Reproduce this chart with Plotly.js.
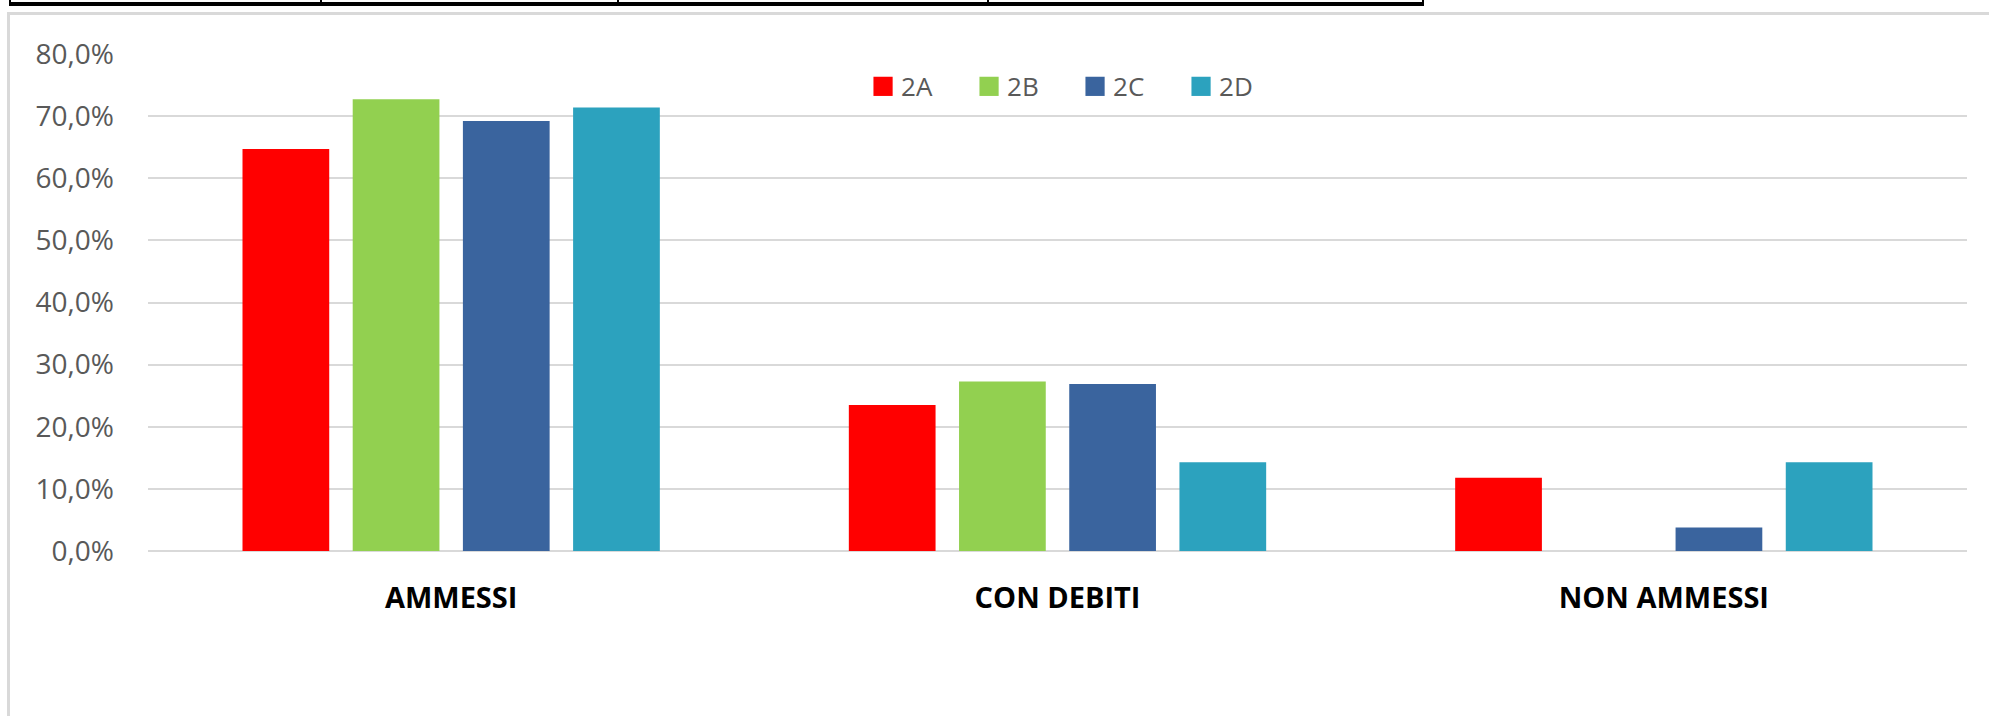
<!DOCTYPE html>
<html>
<head>
<meta charset="utf-8">
<script src="https://cdn.plot.ly/plotly-3.0.1.min.js"></script>
<style>
  html, body { margin: 0; padding: 0; background: #fff; overflow: hidden; }
  #wrap { position: relative; width: 1989px; height: 716px; }
  /* piece of the table above the chart, cut off at the top */
  .tbl-bar { position: absolute; left: 9px; top: 2px; width: 1415px; height: 4px; background: #000; }
  .tbl-div { position: absolute; top: 0; width: 2px; height: 4px; background: #000; }
  /* chart frame (only top and left edges are visible) */
  .frame { position: absolute; left: 7px; top: 12px; width: 2100px; height: 800px;
           border: 3px solid #d9d9d9; box-sizing: border-box; }
  #chart { position: absolute; left: 0; top: 0; width: 1989px; height: 716px; }
</style>
</head>
<body>
<div id="wrap">
  <div class="tbl-bar"></div>
  <div class="tbl-div" style="left:9px"></div>
  <div class="tbl-div" style="left:320px"></div>
  <div class="tbl-div" style="left:617px"></div>
  <div class="tbl-div" style="left:987px"></div>
  <div class="tbl-div" style="left:1422px"></div>
  <div class="frame"></div>
  <div id="chart"></div>
</div>
<script>
// ---- data ----
const categories = ["AMMESSI", "CON DEBITI", "NON AMMESSI"];
const classes = ["2A", "2B", "2C", "2D"];
const val2A = [0.647, 0.235, 0.118];
const val2B = [0.727, 0.273, 0.0];
const val2C = [0.692, 0.269, 0.038];
const val2D = [0.714, 0.143, 0.143];
const colors = ["#FF0000", "#92D050", "#3A649E", "#2CA2BE"];

const series = [val2A, val2B, val2C, val2D];

const traces = series.map((vals, i) => ({
  type: "bar",
  name: classes[i],
  x: categories,
  y: vals,
  marker: { color: colors[i], line: { width: 0 } },
  hoverinfo: "skip",
}));

const layout = {
  width: 1989,
  height: 716,
  margin: { l: 148, r: 22, t: 54, b: 165, pad: 0 },
  paper_bgcolor: "rgba(0,0,0,0)",
  plot_bgcolor: "rgba(0,0,0,0)",
  separators: ",.",
  barmode: "group",
  bargap: 0.273,
  bargroupgap: 0.213,
  font: { family: "Open Sans, sans-serif", color: "#595959", size: 26 },
  showlegend: true,
  legend: {
    orientation: "h",
    x: 0.392, xanchor: "left",
    y: 0.982, yanchor: "top",
    entrywidth: 61,
    font: { family: "Open Sans, sans-serif", size: 26, color: "#595959" },
    bgcolor: "rgba(0,0,0,0)",
    traceorder: "normal",
  },
  xaxis: {
    type: "category",
    showgrid: false,
    showline: false,
    zeroline: false,
    ticks: "",
    ticklabelstandoff: 27,
    tickfont: { family: "Open Sans, sans-serif", size: 29, color: "#000000", weight: "bold" },
  },
  yaxis: {
    range: [0, 0.8],
    dtick: 0.1,
    tick0: 0,
    tickformat: ".1%",
    showgrid: true,
    gridcolor: "#d9d9d9",
    gridwidth: 2,
    zeroline: true,
    zerolinecolor: "#d9d9d9",
    zerolinewidth: 2,
    showline: false,
    ticks: "",
    ticklabelstandoff: 33,
    tickfont: { family: "Open Sans, sans-serif", size: 28, color: "#595959" },
  },
};

Plotly.newPlot("chart", traces, layout, { staticPlot: true, displayModeBar: false }).then(() => {
  // bigger legend squares sitting close to their text, like the original
  document.querySelectorAll("#chart .legend").forEach((g) => g.removeAttribute("clip-path"));
  document.querySelectorAll("#chart .legend .scrollbox").forEach((g) => g.removeAttribute("clip-path"));
  document.querySelectorAll("#chart .legendpoints path").forEach((p) => {
    p.setAttribute("transform", "translate(22,0) scale(1.6)");
  });
});
</script>
</body>
</html>
